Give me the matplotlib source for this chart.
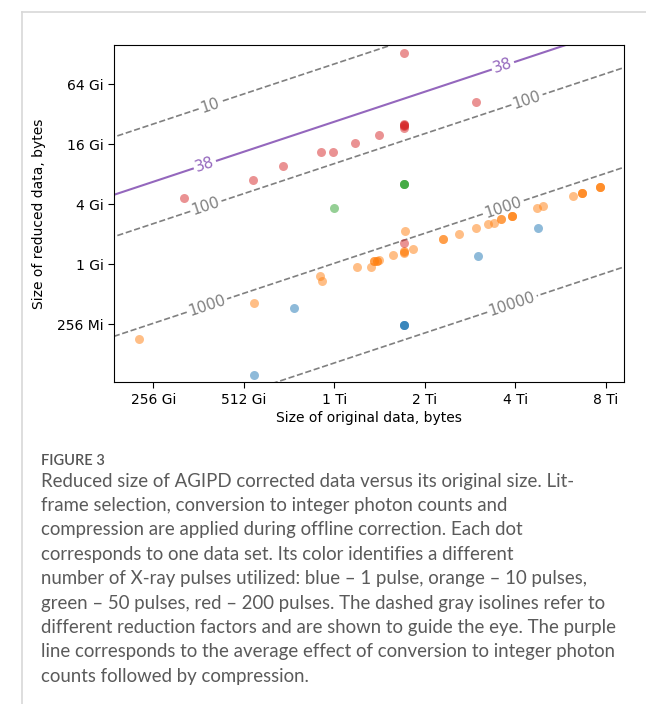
import numpy as np
import matplotlib
matplotlib.use("Agg")
import matplotlib.pyplot as plt
from matplotlib.lines import Line2D

# ---- data (sizes in GiB) ----
# repeated entries are overlapping data sets (darker dots)
blue_x = [554, 752, 1746, 1746, 1746, 3079, 4875]
blue_y = [0.0775, 0.364, 0.246, 0.246, 0.246, 1.21, 2.31]

orange_x = [229, 554, 918, 932, 1219, 1357, 1388, 1388, 1420, 1420, 1442, 1606,
            1746, 1746, 1746, 1871, 1760, 2355, 2355, 2661, 3032, 3323, 3480,
            3671, 3671, 3993, 3993, 3993, 4837, 5065, 6374, 6826, 6826, 6826,
            7836, 7836, 7836]
orange_y = [0.178, 0.409, 0.763, 0.680, 0.939, 0.939, 1.079, 1.079, 1.079, 1.079,
            1.104, 1.24, 1.33, 1.30, 1.36, 1.424, 2.16, 1.79, 1.79, 2.01, 2.31,
            2.54, 2.60, 2.85, 2.85, 3.05, 3.05, 3.05, 3.67, 3.85, 4.85, 5.19, 5.19,
            5.19, 5.97, 5.97, 5.97]

green_x = [1022, 1746, 1746, 1746]
green_y = [3.67, 6.39, 6.39, 6.39]

red_x = [324, 550, 691, 925, 1014, 1200, 1442, 1746, 3032,
         1746, 1746, 1746, 1746, 1746, 1746]
red_y = [4.63, 7.01, 9.69, 13.39, 13.39, 16.5, 19.8, 131.9, 42.5,
         25.6, 24.9, 24.9, 24.3, 23.3, 1.636]

iso_factors = [10, 100, 1000, 10000]
avg_factor = 38

x_ticks = [256, 512, 1024, 2048, 4096, 8192]
x_ticklabels = ["256 Gi", "512 Gi", "1 Ti", "2 Ti", "4 Ti", "8 Ti"]
y_ticks = [0.25, 1, 4, 16, 64]
y_ticklabels = ["256 Mi", "1 Gi", "4 Gi", "16 Gi", "64 Gi"]

caption_lines = [
    "Reduced size of AGIPD corrected data versus its original size. Lit-",
    "frame selection, conversion to integer photon counts and",
    "compression are applied during offline correction. Each dot",
    "corresponds to one data set. Its color identifies a different",
    "number of X-ray pulses utilized: blue \u2013 1 pulse, orange \u2013 10 pulses,",
    "green \u2013 50 pulses, red \u2013 200 pulses. The dashed gray isolines refer to",
    "different reduction factors and are shown to guide the eye. The purple",
    "line corresponds to the average effect of conversion to integer photon",
    "counts followed by compression.",
]

# ---- figure ----
W, H = 646, 704
fig = plt.figure(figsize=(W / 100, H / 100), dpi=100)
ax = fig.add_axes([114.3 / W, 1 - 382.3 / H, (624 - 114.3) / W, (382.3 - 45) / H])

xlim = (189.9, 9418)
ylim = (0.0655, 158.7)
ax.set_xscale("log", base=2)
ax.set_yscale("log", base=2)
ax.set_xlim(*xlim)
ax.set_ylim(*ylim)

# isolines via contour of log10(x/y)
gx = np.logspace(np.log10(xlim[0]) - 0.1, np.log10(xlim[1]) + 0.1, 300)
gy = np.logspace(np.log10(ylim[0]) - 0.1, np.log10(ylim[1]) + 0.1, 300)
GX, GY = np.meshgrid(gx, gy)
Z = np.log10(GX / GY)

fmt = lambda v: f"{10 ** v:.0f}"
cs = ax.contour(GX, GY, Z, levels=np.log10(iso_factors), colors="gray",
                linestyles="--", linewidths=1.2)
cs2 = ax.contour(GX, GY, Z, levels=[np.log10(avg_factor)], colors="#9467bd",
                 linestyles="-", linewidths=1.5)

ax.clabel(cs, fmt=fmt, fontsize=11, inline=True, inline_spacing=2,
          manual=[(395, 38.8), (383, 3.83), (4480, 44.8), (386, 0.386),
                  (3727, 3.727), (3993, 0.3993)])
ax.clabel(cs2, fmt=fmt, fontsize=11, inline=True, inline_spacing=2,
          manual=[(380, 10.0), (3727, 98)])

ms = 42
ax.scatter(blue_x, blue_y, s=ms, color="#1f77b4", alpha=0.5, linewidths=0, zorder=3)
ax.scatter(orange_x, orange_y, s=ms, color="#ff7f0e", alpha=0.5, linewidths=0, zorder=3)
ax.scatter(green_x, green_y, s=ms, color="#2ca02c", alpha=0.5, linewidths=0, zorder=3)
ax.scatter(red_x, red_y, s=ms, color="#d62728", alpha=0.5, linewidths=0, zorder=3)

ax.set_xticks(x_ticks)
ax.set_xticklabels(x_ticklabels)
ax.set_yticks(y_ticks)
ax.set_yticklabels(y_ticklabels)
ax.minorticks_off()
ax.tick_params(labelsize=10, length=4)
ax.set_xlabel("Size of original data, bytes", fontsize=10, labelpad=3)
ax.set_ylabel("Size of reduced data, bytes", fontsize=10, labelpad=8)

# page frame lines
fig.add_artist(Line2D([22 / W, 22 / W], [0, 1 - 12 / H], color="#d8d8d8", lw=1.2))
fig.add_artist(Line2D([22 / W, 1], [1 - 12 / H, 1 - 12 / H], color="#d8d8d8", lw=1.2))

# caption
cap_font = ["Lato", "DejaVu Sans"]
fig.text(41 / W, 1 - 461 / H, "FIGURE 3", family=cap_font, fontsize=10.5,
         fontweight="semibold", color="#555555", va="center", ha="left")
for i, line in enumerate(caption_lines):
    fig.text(41 / W, 1 - (481 + 24.4 * i) / H, line, family=cap_font,
             fontsize=13.4, color="#5a5a5a", va="center", ha="left")

fig.savefig("out.png", dpi=100)
